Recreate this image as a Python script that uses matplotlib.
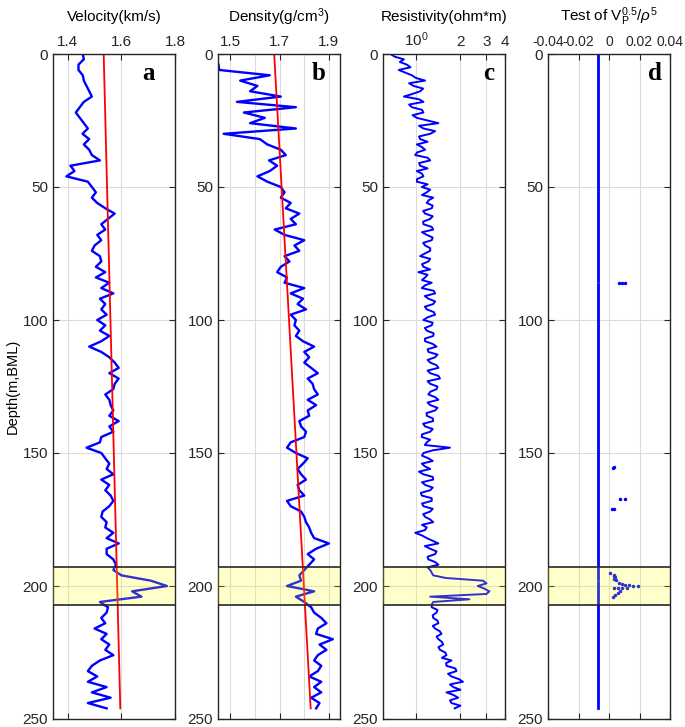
import numpy as np
import matplotlib
matplotlib.use('Agg')
import matplotlib.pyplot as plt
from matplotlib.ticker import NullFormatter, NullLocator

plt.rcParams['font.family'] = ['Liberation Sans', 'DejaVu Sans']
plt.rcParams['axes.unicode_minus'] = False
plt.rcParams['mathtext.fontset'] = 'custom'
plt.rcParams['mathtext.rm'] = 'Liberation Sans'
plt.rcParams['mathtext.it'] = 'Liberation Sans:italic'

# depth samples (m, BML), every 2 m
depth = np.arange(0, 248, 2)

velocity = [1.456,1.46,1.44,1.44,1.456,1.46,1.47,1.48,1.49,1.46,
            1.445,1.43,1.445,1.46,1.475,1.455,1.48,1.46,1.48,1.49,
            1.52,1.41,1.425,1.395,1.475,1.49,1.505,1.49,1.51,1.54,
            1.575,1.55,1.525,1.54,1.51,1.525,1.50,1.49,1.52,1.525,
            1.505,1.54,1.505,1.555,1.525,1.57,1.52,1.54,1.525,1.545,
            1.51,1.54,1.52,1.555,1.525,1.48,1.525,1.555,1.575,1.59,
            1.555,1.59,1.575,1.57,1.54,1.555,1.56,1.57,1.555,1.59,
            1.555,1.57,1.525,1.52,1.47,1.525,1.54,1.555,1.545,1.57,
            1.525,1.555,1.54,1.56,1.57,1.555,1.53,1.525,1.545,1.54,
            1.57,1.545,1.59,1.545,1.545,1.57,1.58,1.57,1.60,1.71,
            1.77,1.64,1.675,1.52,1.55,1.545,1.525,1.54,1.50,1.545,
            1.525,1.555,1.54,1.57,1.52,1.49,1.475,1.51,1.475,1.545,
            1.49,1.56,1.475,1.545]

density = [np.nan,np.nan,1.452,1.455,1.66,1.54,1.61,1.58,1.705,1.527,
           1.766,1.555,1.64,1.58,1.766,1.473,1.62,1.65,1.705,1.725,
           1.657,1.69,1.66,1.61,1.65,1.705,1.72,1.705,1.745,1.725,
           1.78,1.745,1.766,1.68,1.72,1.80,1.76,1.78,1.72,1.74,
           1.705,1.69,1.73,1.72,1.80,1.745,1.795,1.773,1.807,1.745,
           1.766,1.76,1.78,1.766,1.795,1.84,1.80,1.82,1.80,1.828,
           1.855,1.814,1.834,1.84,1.855,1.814,1.848,1.814,1.82,1.78,
           1.787,1.807,1.80,1.745,1.73,1.766,1.814,1.795,1.773,1.787,
           1.807,1.773,1.78,1.80,1.73,1.745,1.787,1.80,1.807,1.82,
           1.828,1.84,1.90,1.848,1.814,1.84,1.82,1.80,1.78,1.787,
           1.73,1.84,1.766,1.80,1.828,1.84,1.869,1.89,1.855,1.848,
           1.916,1.862,1.89,1.855,1.84,1.869,1.855,1.82,1.869,1.84,
           1.869,1.828,1.862,1.848]

# resistivity read at even depths (0..246) and odd depths (1..245)
res_even = [0.673,0.83,0.87,0.766,0.94,1.155,0.965,1.07,0.83,1.125,
            0.94,1.125,1.015,1.42,1.125,1.25,1.07,1.015,1.155,0.99,
            1.25,1.07,1.015,1.125,1.015,1.097,1.185,1.31,1.185,1.28,
            1.155,1.25,1.125,1.31,1.185,1.28,1.155,1.25,1.07,1.215,
            1.125,1.04,1.155,1.28,1.097,1.35,1.215,1.31,1.185,1.35,
            1.125,1.28,1.185,1.31,1.155,1.38,1.215,1.35,1.25,1.42,
            1.25,1.455,1.25,1.38,1.215,1.42,1.25,1.35,1.185,1.31,
            1.155,1.25,1.097,1.185,1.70,1.125,1.215,1.097,1.25,1.125,
            1.31,1.155,1.25,1.097,1.28,1.125,1.25,1.155,1.31,1.185,
            0.99,1.185,1.42,1.25,1.35,1.215,1.42,1.25,1.31,2.84,
            2.62,3.14,1.25,1.31,1.28,1.38,1.31,1.42,1.35,1.49,
            1.42,1.53,1.455,1.61,1.74,1.61,1.88,1.74,2.08,1.79,
            1.61,1.93,1.74,1.83]
res_odd = [0.72,0.78,0.92,0.85,1.0,0.9,1.12,0.95,1.05,0.9,
           1.1,0.95,1.2,1.05,1.35,1.05,1.2,1.1,1.02,1.2,
           1.05,1.2,1.1,1.02,1.2,1.25,1.1,1.22,1.3,1.12,
           1.3,1.12,1.28,1.1,1.3,1.12,1.25,1.15,1.25,1.1,
           1.25,1.2,1.1,1.15,1.32,1.15,1.35,1.15,1.32,1.2,
           1.3,1.15,1.32,1.15,1.3,1.2,1.4,1.2,1.38,1.2,
           1.42,1.2,1.4,1.25,1.35,1.2,1.4,1.18,1.3,1.12,
           1.3,1.1,1.25,1.15,1.3,1.1,1.3,1.15,1.05,1.3,
           1.1,1.3,1.08,1.28,1.1,1.3,1.12,1.25,1.1,1.15,
           1.1,1.3,1.15,1.38,1.2,1.35,1.2,1.28,1.6,3.0,
           2.9,3.0,2.3,1.28,1.4,1.3,1.4,1.3,1.45,1.38,
           1.5,1.42,1.58,1.5,1.6,1.85,1.65,1.95,1.7,2.0,
           1.8,1.7,2.0]
res_depth = np.arange(0, 247, 1)
resistivity = np.empty(len(res_depth))
resistivity[0::2] = res_even
resistivity[1::2] = res_odd

# linear trends (red)
fit_depth = [0, 246]
vel_fit = [1.534, 1.596]
den_fit = [1.678, 1.826]

# test V^0.5/rho^5: baseline + scattered outliers
test_depth = [0, 85.5, np.nan, 86.5, 197.5, np.nan, 198.5, 202.5, np.nan, 203.5, 246]
test_base = [-0.007]*len(test_depth)
out_depth = [86, 86, 86.2, 155.5, 155.2, 167.4, 167.4, 171.2, 171.0,
             195.3, 195.8, 196.8, 197.8, 198.8, 199.3, 199.8, 199.8, 199.9, 200.0,
             200.8, 200.8, 200.8, 200.8, 202.0, 202.8, 203.5, 204.0, 196.2, 197.2]
out_val = [0.0065, 0.0085, 0.0105, 0.0024, 0.0030, 0.0070, 0.0107, 0.0020, 0.0030,
           0.0009, 0.0030, 0.0037, 0.0048, 0.0063, 0.0085, 0.0107, 0.0128, 0.0160, 0.0193,
           0.0030, 0.0057, 0.0085, 0.0117, 0.0074, 0.0057, 0.0040, 0.0026, 0.0030, 0.0035]

band = (193, 207)

dark = '#262626'
W, H = 685., 727.
lefts = [53, 218, 383, 548]
f = plt.figure(figsize=(6.85, 7.27), dpi=100)
axes = []
for lx in lefts:
    ax = f.add_axes([lx/W, 8/H, 122/W, 665/H])
    axes.append(ax)

for ax in axes:
    ax.set_ylim(250, 0)
    ax.set_yticks([0, 50, 100, 150, 200, 250])
    ax.tick_params(which='both', direction='in', top=True, bottom=True, left=True, right=True,
                   labeltop=True, labelbottom=False, labelsize=11, colors=dark, length=4, width=0.8)
    ax.tick_params(which='minor', length=0)
    ax.grid(True, color='#dcdcdc', lw=0.8)
    ax.set_axisbelow(True)
    for s in ax.spines.values():
        s.set_color(dark)
        s.set_linewidth(1.0)
    ax.axhspan(band[0], band[1], color='yellow', alpha=0.2, lw=0, zorder=5)
    ax.axhline(band[0], color=dark, lw=1.2, zorder=6)
    ax.axhline(band[1], color=dark, lw=1.2, zorder=6)

ax1, ax2, ax3, ax4 = axes

ax1.plot(velocity, depth, color='blue', lw=1.7)
ax1.plot(vel_fit, fit_depth, color='red', lw=1.3)
ax1.set_xlim(1.345, 1.8)
ax1.set_xticks([1.4, 1.6, 1.8])
ax1.set_xticklabels(['1.4', '1.6', '1.8'])
ax1.set_ylabel('Depth(m,BML)', fontsize=10.5, labelpad=2)

ax2.plot(density, depth, color='blue', lw=1.7)
ax2.plot(den_fit, fit_depth, color='red', lw=1.3)
ax2.set_xlim(1.45, 1.945)
ax2.set_xticks([1.5, 1.7, 1.9])
ax2.set_xticklabels(['1.5', '1.7', '1.9'])
ax2.set_xticks([1.6, 1.8], minor=True)
ax2.grid(True, which='minor', axis='x', color='#dcdcdc', lw=0.8)

ax3.semilogx(resistivity, res_depth, color='blue', lw=1.4)
ax3.set_xlim(0.6, 4)
ax3.set_xticks([1, 2, 3, 4])
ax3.set_xticklabels(['10$^0$', '2', '3', '4'])
ax3.xaxis.set_minor_locator(NullLocator())
ax3.xaxis.set_minor_formatter(NullFormatter())

ax4.plot(test_base, test_depth, color='blue', lw=2)
ax4.plot(out_val, out_depth, '.', color='blue', ms=3)
ax4.set_xlim(-0.04, 0.04)
ax4.set_xticks([-0.04, -0.02, 0, 0.02, 0.04])
ax4.set_xticklabels(['-0.04', '-0.02', '0', '0.02', '0.04'])
ax4.tick_params(axis='x', labelsize=10)

titles = ['Velocity(km/s)', 'Density(g/cm$^3$)', 'Resistivity(ohm*m)',
          'Test of V$_\\mathrm{P}^{0.5}$/$\\rho^5$']
for ax, t in zip(axes, titles):
    b = ax.get_position()
    f.text(b.x0 + b.width/2, 1 - 17/H, t, ha='center', va='center', fontsize=11, color='black')

letters = ['a', 'b', 'c', 'd']
lx = [0.83, 0.885, 0.91, 0.93]
for ax, t, x in zip(axes, letters, lx):
    ax.text(x, 0.988, t, transform=ax.transAxes, ha='right', va='top',
            fontsize=18, fontweight='bold', family='Liberation Serif', zorder=7)

f.savefig('out.png', dpi=100)
